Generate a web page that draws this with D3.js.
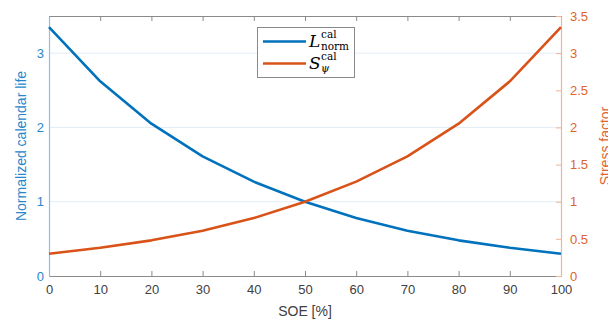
<!DOCTYPE html>
<html><head><meta charset="utf-8">
<script src="https://cdn.jsdelivr.net/npm/d3@7"></script>
<style>body{margin:0;background:#fff}svg{display:block;font-family:"Liberation Sans",Arial,sans-serif}</style>
</head><body>
<svg id="c" width="608" height="322"></svg>
<script>
const soe = [0,10,20,30,40,50,60,70,80,90,100];
const lifeNorm = [3.35,2.62,2.05,1.61,1.27,1.0,0.78,0.61,0.48,0.38,0.30];
const stress = [0.30,0.38,0.48,0.61,0.78,1.0,1.27,1.61,2.05,2.62,3.35];
const xTicks = [0,10,20,30,40,50,60,70,80,90,100];
const yLeftTicks = [0,1,2,3];
const yRightTicks = [0,0.5,1,1.5,2,2.5,3,3.5];

const blue = "#0072BD", orange = "#D95319";
const svg = d3.select("#c");
const L = 49, R = 561, T = 16, B = 276;
const x = d3.scaleLinear().domain([0,100]).range([L,R]);
const yl = d3.scaleLinear().domain([0,3.5]).range([B,T]);
const yr = d3.scaleLinear().domain([0,3.5]).range([B,T]);

// grid
svg.append("g").selectAll("line").data(yLeftTicks.filter(d=>d>0)).join("line")
  .attr("x1",L).attr("x2",R).attr("y1",d=>yl(d)).attr("y2",d=>yl(d))
  .attr("stroke","#e3edf7").attr("stroke-width",1);

// bottom axis
const xb = svg.append("g").attr("transform",`translate(0,${B})`)
  .call(d3.axisBottom(x).tickValues(xTicks).tickSizeInner(-5).tickSizeOuter(0).tickPadding(9));
xb.select(".domain").attr("stroke","#8a8a8a");
xb.selectAll(".tick line").attr("stroke","#8a8a8a");
xb.selectAll("text").attr("fill","#404040").style("font-size","13px");
// top axis
const xt = svg.append("g").attr("transform",`translate(0,${T})`)
  .call(d3.axisTop(x).tickValues(xTicks).tickSizeInner(-5).tickSizeOuter(0).tickFormat(""));
xt.select(".domain").attr("stroke","#8a8a8a");
xt.selectAll(".tick line").attr("stroke","#8a8a8a");

// left axis
const ya = svg.append("g").attr("transform",`translate(${L},0)`)
  .call(d3.axisLeft(yl).tickValues(yLeftTicks).tickSizeInner(0).tickSizeOuter(0).tickPadding(5).tickFormat(d3.format("d")));
ya.select(".domain").attr("stroke","#8dbfe6").attr("stroke-width",1.2);
ya.selectAll("text").attr("fill","#2a86cc").style("font-size","13px");

// right axis
const yb = svg.append("g").attr("transform",`translate(${R},0)`)
  .call(d3.axisRight(yr).tickValues(yRightTicks).tickSizeInner(-5).tickSizeOuter(0).tickPadding(9).tickFormat(d=>String(d)));
yb.select(".domain").attr("stroke","#f0b49a").attr("stroke-width",1.2);
yb.selectAll(".tick line").attr("stroke","#f0b49a");
yb.selectAll("text").attr("fill","#e0642c").style("font-size","13px");

// lines
const lineL = d3.line().x((d,i)=>x(soe[i])).y(d=>yl(d));
const lineR = d3.line().x((d,i)=>x(soe[i])).y(d=>yr(d));
svg.append("path").attr("d",lineL(lifeNorm)).attr("fill","none").attr("stroke",blue).attr("stroke-width",2.6).attr("stroke-linejoin","round");
svg.append("path").attr("d",lineR(stress)).attr("fill","none").attr("stroke",orange).attr("stroke-width",2.6).attr("stroke-linejoin","round");

// axis labels
svg.append("text").attr("x",(L+R)/2).attr("y",316).attr("text-anchor","middle")
  .attr("fill","#404040").style("font-size","14px").text("SOE [%]");
svg.append("text").attr("transform",`translate(26,${(T+B)/2}) rotate(-90)`).attr("text-anchor","middle")
  .attr("fill","#2a86cc").style("font-size","14px").text("Normalized calendar life");
svg.append("text").attr("transform",`translate(610,${(T+B)/2}) rotate(-90)`).attr("text-anchor","middle")
  .attr("fill","#e0642c").style("font-size","14px").text("Stress factor");

// legend
const lg = svg.append("g");
lg.append("rect").attr("x",257.5).attr("y",27.5).attr("width",97).attr("height",50)
  .attr("fill","#fff").attr("stroke","#8a8a8a").attr("stroke-width",1);
const items = [{c:blue, base:"L", sup:"cal", sub:"norm", y:41.5},{c:orange, base:"S", sup:"cal", sub:"ψ", y:63.5}];
items.forEach(it=>{
  lg.append("line").attr("x1",263).attr("x2",306).attr("y1",it.y).attr("y2",it.y).attr("stroke",it.c).attr("stroke-width",2.6);
  const g = lg.append("g").style("font-family","'DejaVu Serif','Liberation Serif',serif").attr("fill","#000");
  g.append("text").attr("x",309).attr("y",it.y+5.5).style("font-size","17px").style("font-style","italic").text(it.base);
  g.append("text").attr("x",321).attr("y",it.y-4).style("font-size","10.5px").text(it.sup);
  g.append("text").attr("x",321).attr("y",it.y+8).style("font-size","10.5px").style("font-style",it.sub==="ψ"?"italic":"normal").text(it.sub);
});
</script>
</body></html>
